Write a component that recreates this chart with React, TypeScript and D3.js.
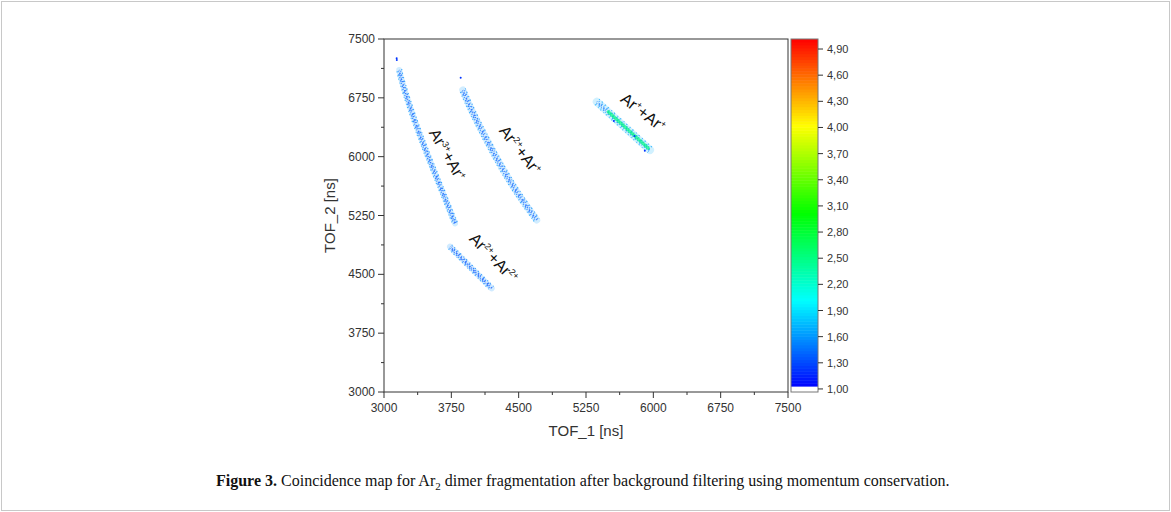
import React from "react";
import * as d3 from "d3";

// axis ticks (ns)
const xTicks = [3000, 3750, 4500, 5250, 6000, 6750, 7500];
const yTicks = [3000, 3750, 4500, 5250, 6000, 6750, 7500];
const colorTicks = [1.0, 1.3, 1.6, 1.9, 2.2, 2.5, 2.8, 3.1, 3.4, 3.7, 4.0, 4.3, 4.6, 4.9];

// ridge of each coincidence band [TOF_1, TOF_2]
const band3p1p = [[3170, 7105], [3186, 7019], [3326, 6510], [3493, 6000], [3643, 5575], [3791, 5150]];
const band2p1p = [[3877, 6850], [3958, 6637], [4144, 6213], [4329, 5830], [4515, 5490], [4701, 5193]];
const band2p2p = [[3735, 4852], [3958, 4597], [4200, 4322]];
const band1p1p = [[5370, 6701], [5963, 6085]];
const band1p1pCore = [[5498, 6573], [5944, 6107]];
// isolated counts
const strayPoints = [[3141, 7254], [3143, 7232], [3854, 7007], [5560, 6455], [5790, 6262], [5905, 6075]];

// counts level per band
const bandLevels = [1.35, 1.35, 1.32, 1.45];
const coreLevel = 2.5;

const labels = [
  { x: 3655, y: 5990, a: 60, q1: "3+", q2: "+" },
  { x: 4470, y: 6040, a: 52, q1: "2+", q2: "+" },
  { x: 4180, y: 4660, a: 46, q1: "2+", q2: "2+" },
  { x: 5850, y: 6510, a: 38, q1: "+", q2: "+" },
];

const W = 1171;
const H = 512;
const left = 384, right = 788, top = 39, bottom = 392;

const x = d3.scaleLinear().domain([3000, 7500]).range([left, right]);
const y = d3.scaleLinear().domain([3000, 7500]).range([bottom, top]);
const cy = d3.scaleLinear().domain([0.965, 5.015]).range([bottom, top]);
const color = d3.scaleLinear<string>()
  .domain([1, 2, 3, 4, 5])
  .range(["#0000ff", "#00ffff", "#00ff00", "#ffff00", "#ff0000"])
  .clamp(true);

const font = "Arial, 'Liberation Sans', sans-serif";
const axisColor = "#333";

const line = d3.line<number[]>()
  .x(d => x(d[0]))
  .y(d => y(d[1]))
  .curve(d3.curveCatmullRom);

// speckle look: a few parallel dotted strokes across the band width
const speckle = [
  { o: -0.42, dash: "1 2.6 1.4 3.3", w: 1.2, dl: 0.2 },
  { o: -0.2, dash: "1.3 1.7 0.8 2.9", w: 1.5, dl: 0.05 },
  { o: 0, dash: "1.6 1.3 1 2.2", w: 1.6, dl: -0.05 },
  { o: 0.2, dash: "0.9 2.1 1.5 1.6", w: 1.5, dl: 0.05 },
  { o: 0.42, dash: "1.1 3.1 0.8 2.4", w: 1.2, dl: 0.25 },
];

function Band({ pts, level, width }: { pts: number[][]; level: number; width: number }) {
  const p0 = pts[0], p1 = pts[pts.length - 1];
  const dx = x(p1[0]) - x(p0[0]);
  const dy = y(p1[1]) - y(p0[1]);
  const len = Math.hypot(dx, dy);
  const nx = -dy / len, ny = dx / len;
  const d = line(pts) || "";
  return (
    <g>
      <path d={d} fill="none" stroke={color(level + 0.25)} strokeOpacity={0.18}
        strokeWidth={width} strokeLinecap="round" />
      {speckle.map((s, i) => (
        <path key={i} d={d} fill="none" transform={`translate(${nx * s.o * width},${ny * s.o * width})`}
          stroke={color(level + s.dl)} strokeOpacity={0.72} strokeWidth={s.w}
          strokeDasharray={s.dash} strokeDashoffset={i * 1.7} />
      ))}
    </g>
  );
}

export default function App() {
  const nSteps = 120;
  const steps = d3.range(nSteps).map(i => 0.965 + (i * (5.015 - 0.965)) / nSteps);
  const stepH = (bottom - top) / nSteps;
  const minorX = d3.range(3375, 7500, 750);
  const minorY = d3.range(3375, 7500, 750);

  return (
    <svg width={W} height={H} style={{ position: "absolute", left: 0, top: 0, background: "#fff" }}>
      <rect x={1.5} y={1.5} width={W - 3} height={H - 3} fill="#fff" stroke="#c8c8c8" />

      {/* bands */}
      <Band pts={band3p1p} level={bandLevels[0]} width={6} />
      <Band pts={band2p1p} level={bandLevels[1]} width={7} />
      <Band pts={band2p2p} level={bandLevels[2]} width={6} />
      <Band pts={band1p1p} level={bandLevels[3]} width={8} />
      <path d={line(band1p1pCore) || ""} fill="none" stroke={color(coreLevel)}
        strokeOpacity={0.7} strokeWidth={3.2} strokeLinecap="round" />
      {strayPoints.map((p, i) => (
        <circle key={i} cx={x(p[0])} cy={y(p[1])} r={1} fill={color(1.2)} />
      ))}

      {/* band labels */}
      {labels.map((l, i) => (
        <text key={i} transform={`translate(${x(l.x)},${y(l.y)}) rotate(${l.a})`}
          textAnchor="middle" fontFamily={font} fontSize={16} fill="#111">
          Ar<tspan dy={-6} fontSize={9}>{l.q1}</tspan>
          <tspan dy={6}>+Ar</tspan>
          <tspan dy={-6} fontSize={9}>{l.q2}</tspan>
        </text>
      ))}

      {/* frame */}
      <rect x={left} y={top} width={right - left} height={bottom - top} fill="none" stroke={axisColor} strokeWidth={1} />

      {/* x axis */}
      {xTicks.map(t => (
        <g key={t}>
          <line x1={x(t)} x2={x(t)} y1={bottom} y2={bottom + 6} stroke={axisColor} />
          <text x={x(t)} y={bottom + 20} textAnchor="middle" fontFamily={font} fontSize={12} fill={axisColor}>{t}</text>
        </g>
      ))}
      {minorX.map(t => (
        <line key={t} x1={x(t)} x2={x(t)} y1={bottom} y2={bottom + 3} stroke={axisColor} />
      ))}
      <text x={(left + right) / 2} y={bottom + 44} textAnchor="middle" fontFamily={font} fontSize={15} fill={axisColor}>TOF_1 [ns]</text>

      {/* y axis */}
      {yTicks.map(t => (
        <g key={t}>
          <line x1={left - 6} x2={left} y1={y(t)} y2={y(t)} stroke={axisColor} />
          <text x={left - 9} y={y(t) + 4} textAnchor="end" fontFamily={font} fontSize={12} fill={axisColor}>{t}</text>
        </g>
      ))}
      {minorY.map(t => (
        <line key={t} x1={left - 3} x2={left} y1={y(t)} y2={y(t)} stroke={axisColor} />
      ))}
      <text transform={`translate(${left - 49},${(top + bottom) / 2}) rotate(-90)`} textAnchor="middle"
        fontFamily={font} fontSize={15} fill={axisColor}>TOF_2 [ns]</text>

      {/* colour bar */}
      {steps.map((v, i) => (
        <rect key={i} x={791} y={bottom - (i + 1) * stepH} width={27} height={stepH + 0.5}
          fill={v < 1 ? "#fff" : color(v)} />
      ))}
      <rect x={791} y={top} width={27} height={bottom - top} fill="none" stroke="#777" />
      {colorTicks.map(t => (
        <g key={t}>
          <line x1={818} x2={823} y1={cy(t)} y2={cy(t)} stroke={axisColor} />
          <text x={827} y={cy(t) + 4} fontFamily={font} fontSize={11} fill={axisColor}>{t.toFixed(2).replace(".", ",")}</text>
        </g>
      ))}

      {/* caption */}
      <text x={216} y={486} fontFamily="'Liberation Serif', 'Times New Roman', serif" fontSize={16} fill="#111">
        <tspan fontWeight="bold">Figure 3.</tspan> Coincidence map for Ar
        <tspan dy={4} fontSize={11}>2</tspan>
        <tspan dy={-4}> dimer fragmentation after background filtering using momentum conservation.</tspan>
      </text>
    </svg>
  );
}
